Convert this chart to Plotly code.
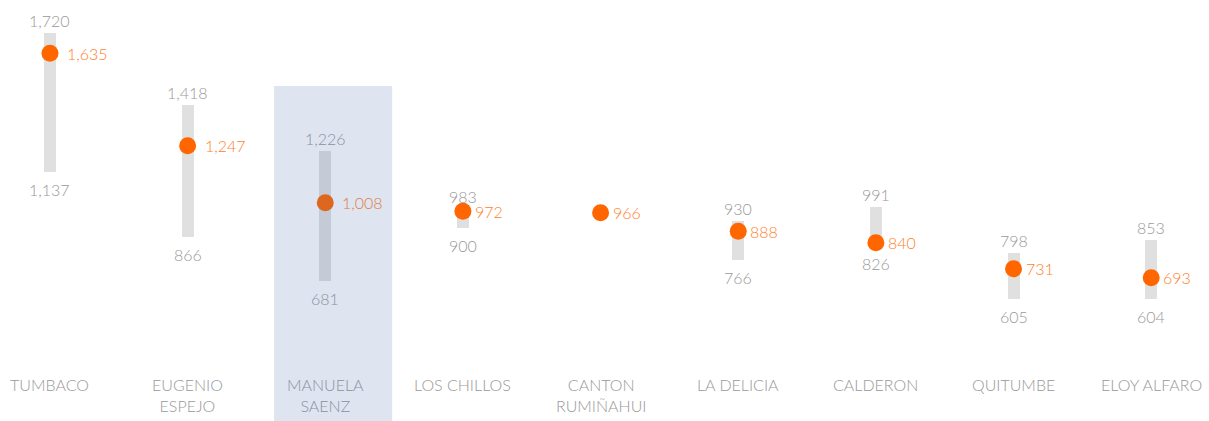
import plotly.graph_objects as go

# Sucursales y valores (mínimo, máximo, valor actual)
categories = ["TUMBACO", "EUGENIO<br>ESPEJO", "MANUELA<br>SAENZ", "LOS CHILLOS",
              "CANTON<br>RUMIÑAHUI", "LA DELICIA", "CALDERON", "QUITUMBE", "ELOY ALFARO"]
max_values = [1720, 1418, 1226, 983, None, 930, 991, 798, 853]
min_values = [1137, 866, 681, 900, None, 766, 826, 605, 604]
values = [1635, 1247, 1008, 972, 966, 888, 840, 731, 693]
highlight_index = 2

GRAY_BAR = "#E0E0E0"
GRAY_TEXT = "#999999"
ORANGE_DOT = "#FF6600"
ORANGE_TEXT = "#FF7F2A"
# Tinted colours for elements seen through the highlight panel
TINT_GRAY_TEXT = "#8A919E"
TINT_ORANGE_TEXT = "#DE7C43"
FONT = "Lato"

x = list(range(len(categories)))

fig = go.Figure()

# Range bars (min to max)
bar_x = [i for i in x if max_values[i] is not None]
fig.add_trace(go.Bar(
    x=bar_x,
    y=[max_values[i] - min_values[i] for i in bar_x],
    base=[min_values[i] for i in bar_x],
    width=0.087,
    marker=dict(color=GRAY_BAR, line=dict(width=0)),
    hoverinfo="skip",
))

# Current value dots
fig.add_trace(go.Scatter(
    x=x, y=values, mode="markers",
    marker=dict(size=17, color=ORANGE_DOT, line=dict(width=0)),
    hoverinfo="skip",
))

annotations = []
for i in x:
    hl = (i == highlight_index)
    gray = TINT_GRAY_TEXT if hl else GRAY_TEXT
    orange = TINT_ORANGE_TEXT if hl else ORANGE_TEXT
    if max_values[i] is not None:
        annotations.append(dict(
            x=i, y=max_values[i], text=f"{max_values[i]:,}", showarrow=False,
            xanchor="center", yanchor="bottom", yshift=1,
            font=dict(size=16, color=gray, family=FONT, weight=300)))
        annotations.append(dict(
            x=i, y=min_values[i], text=f"{min_values[i]:,}", showarrow=False,
            xanchor="center", yanchor="top", yshift=-6,
            font=dict(size=16, color=gray, family=FONT, weight=300)))
    annotations.append(dict(
        x=i, y=values[i], text=f"{values[i]:,}", showarrow=False,
        xanchor="left", yanchor="middle", xshift=10 if values[i] < 1000 else 15,
        font=dict(size=16, color=orange, family=FONT, weight=300)))
    annotations.append(dict(
        x=i, y=0.115, yref="paper", text=categories[i], showarrow=False,
        xanchor="center", yanchor="top",
        font=dict(size=16, color=gray, family=FONT, weight=300)))

# Highlight panel drawn over the selected branch
fig.add_shape(
    type="rect", xref="x", yref="paper",
    x0=highlight_index - 0.372, x1=highlight_index + 0.486, y0=0, y1=1 - 86 / 421,
    fillcolor="rgba(70,110,180,0.18)", line=dict(width=0), layer="above",
)

fig.update_layout(
    width=1209, height=421,
    margin=dict(l=0, r=0, t=0, b=0),
    paper_bgcolor="white", plot_bgcolor="white",
    showlegend=False,
    annotations=annotations,
    xaxis=dict(range=[-0.363, 8.42], visible=False, fixedrange=True),
    yaxis=dict(range=[92.5, 1858], visible=False, fixedrange=True),
    bargap=0,
)

fig.write_html("out.html")
